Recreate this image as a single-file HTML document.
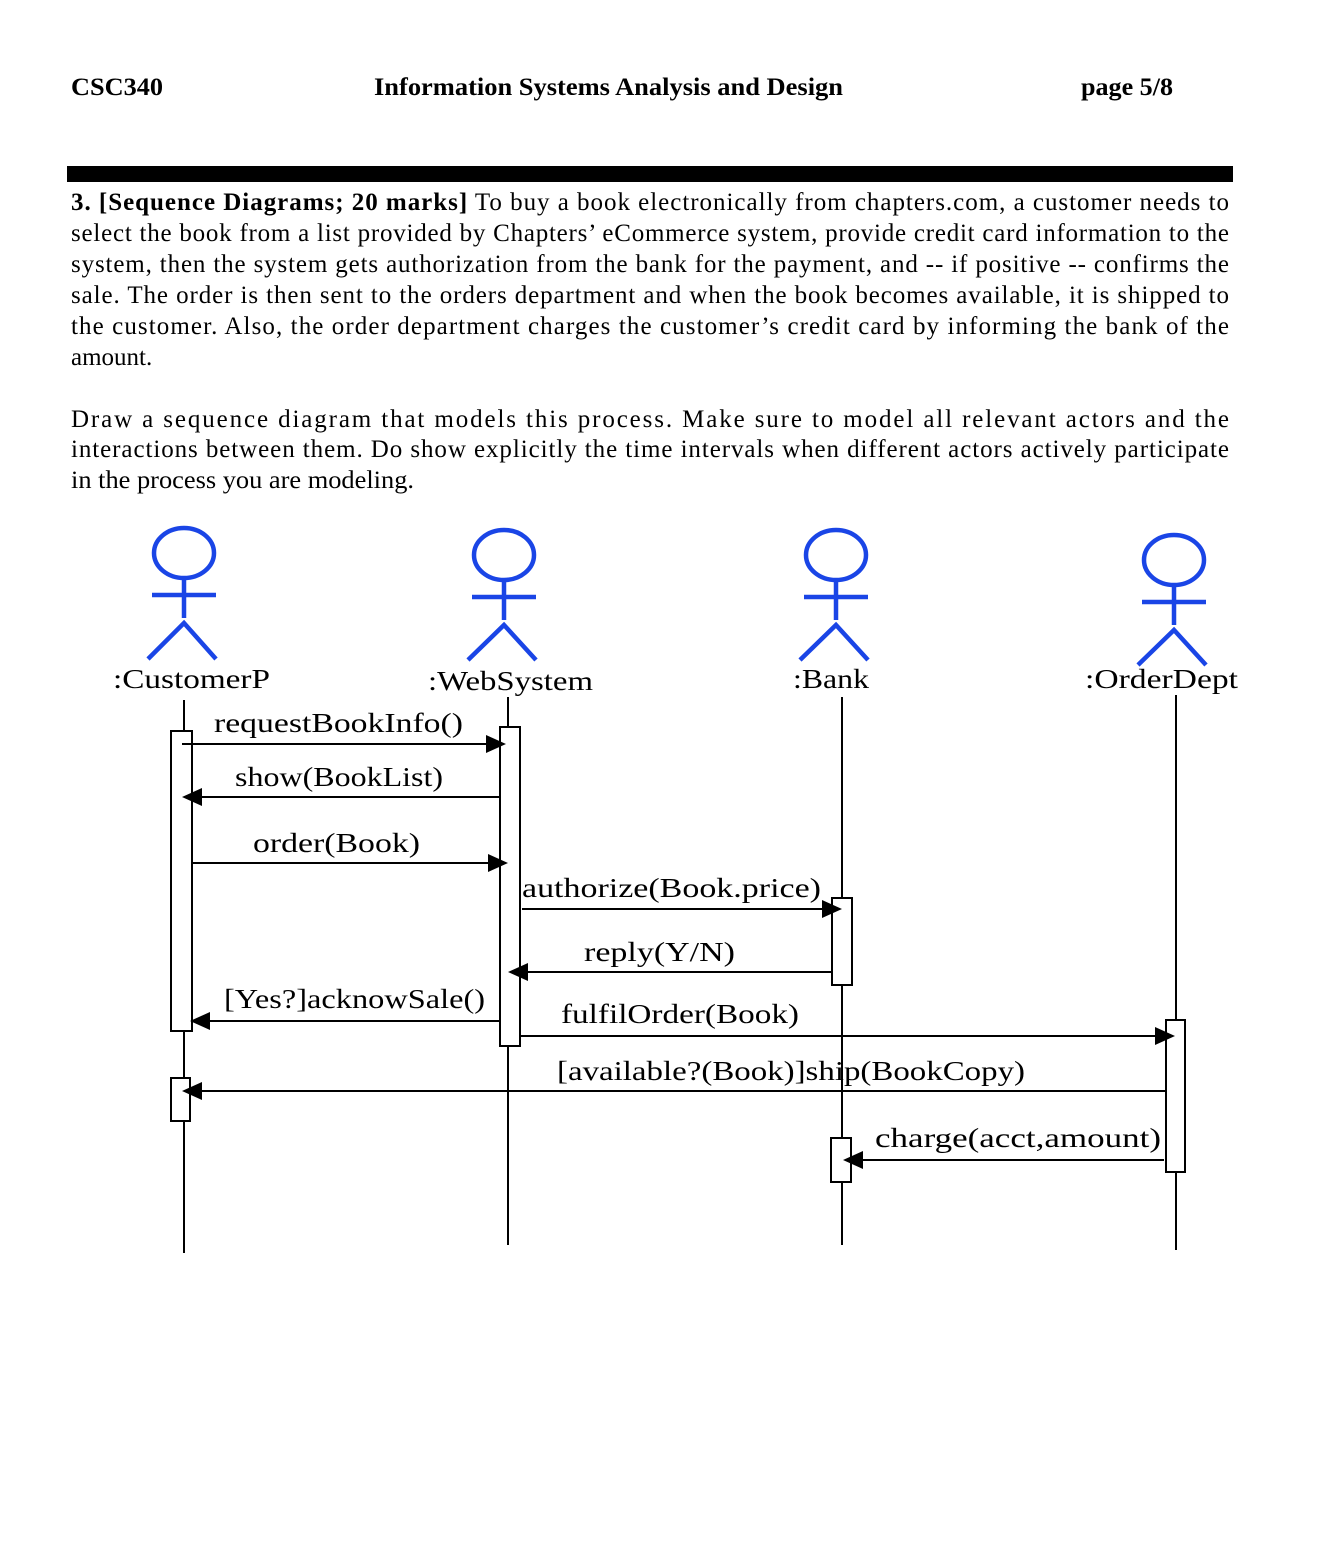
<!DOCTYPE html>
<html><head><meta charset="utf-8"><style>
html,body{margin:0;padding:0;background:#fff;}
svg{display:block;}
</style></head><body>
<svg width="1342" height="1558" viewBox="0 0 1342 1558" xmlns="http://www.w3.org/2000/svg" font-family="Liberation Serif, serif">
<g font-size="25" font-weight="bold">
<text x="71" y="95" textLength="92" lengthAdjust="spacingAndGlyphs">CSC340</text>
<text x="374" y="95" textLength="469" lengthAdjust="spacingAndGlyphs">Information Systems Analysis and Design</text>
<text x="1081" y="95" textLength="92" lengthAdjust="spacingAndGlyphs">page 5/8</text>
</g>
<rect x="67" y="166" width="1166" height="16" fill="#000"/>
<g font-size="25">
<text x="71" y="210" textLength="1158" lengthAdjust="spacing"><tspan font-weight="bold">3. [Sequence Diagrams; 20 marks]</tspan> To buy a book electronically from chapters.com, a customer needs to</text>
<text x="71" y="241" textLength="1158" lengthAdjust="spacing">select the book from a list provided by Chapters’ eCommerce system, provide credit card information to the</text>
<text x="71" y="272" textLength="1158" lengthAdjust="spacing">system, then the system gets authorization from the bank for the payment, and -- if positive -- confirms the</text>
<text x="71" y="303" textLength="1158" lengthAdjust="spacing">sale. The order is then sent to the orders department and when the book becomes available, it is shipped to</text>
<text x="71" y="334" textLength="1158" lengthAdjust="spacing">the customer. Also, the order department charges the customer’s credit card by informing the bank of the</text>
<text x="71" y="365">amount.</text>
<text x="71" y="427" textLength="1158" lengthAdjust="spacing">Draw a sequence diagram that models this process. Make sure to model all relevant actors and the</text>
<text x="71" y="457" textLength="1158" lengthAdjust="spacing">interactions between them. Do show explicitly the time intervals when different actors actively participate</text>
<text x="71" y="488" textLength="343" lengthAdjust="spacingAndGlyphs">in the process you are modeling.</text>
</g>
<g stroke="#1a45e6" stroke-width="4.5" fill="none">
<ellipse cx="184" cy="553" rx="30" ry="25"/><line x1="184" y1="578" x2="184" y2="618"/><line x1="152" y1="595" x2="216" y2="595"/><polyline points="148,659 184,623 216,659"/>
<ellipse cx="504" cy="555" rx="30" ry="25"/><line x1="504" y1="580" x2="504" y2="620"/><line x1="472" y1="597" x2="536" y2="597"/><polyline points="468,660 504,625 536,660"/>
<ellipse cx="836" cy="555" rx="30" ry="25"/><line x1="836" y1="580" x2="836" y2="620"/><line x1="804" y1="597" x2="868" y2="597"/><polyline points="800,660 836,625 868,660"/>
<ellipse cx="1174" cy="560" rx="30" ry="25"/><line x1="1174" y1="585" x2="1174" y2="625"/><line x1="1142" y1="602" x2="1206" y2="602"/><polyline points="1138,665 1174,630 1206,665"/>
</g>
<g font-size="27">
<text x="113" y="688" textLength="157" lengthAdjust="spacingAndGlyphs">:CustomerP</text>
<text x="428" y="690" textLength="165" lengthAdjust="spacingAndGlyphs">:WebSystem</text>
<text x="793" y="688" textLength="76" lengthAdjust="spacingAndGlyphs">:Bank</text>
<text x="1085" y="688" textLength="153" lengthAdjust="spacingAndGlyphs">:OrderDept</text>
</g>
<g stroke="#000" stroke-width="2">
<line x1="184" y1="700" x2="184" y2="1253"/>
<line x1="508" y1="697" x2="508" y2="1245"/>
<line x1="842" y1="697" x2="842" y2="1245"/>
<line x1="1176" y1="695" x2="1176" y2="1250"/>
</g>
<g stroke="#000" stroke-width="2" fill="#fff">
<rect x="171" y="731" width="21" height="300"/>
<rect x="171" y="1078" width="19" height="43"/>
<rect x="500" y="727" width="20" height="319"/>
<rect x="832" y="898" width="20" height="87"/>
<rect x="831" y="1138" width="20" height="44"/>
<rect x="1166" y="1020" width="19" height="152"/>
</g>
<g stroke="#000" stroke-width="2">
<line x1="182" y1="744" x2="490" y2="744"/>
<line x1="500" y1="797" x2="198" y2="797"/>
<line x1="192" y1="863" x2="492" y2="863"/>
<line x1="522" y1="909" x2="826" y2="909"/>
<line x1="832" y1="972" x2="524" y2="972"/>
<line x1="500" y1="1021" x2="206" y2="1021"/>
<line x1="520" y1="1036" x2="1159" y2="1036"/>
<line x1="1166" y1="1091" x2="198" y2="1091"/>
<line x1="1164" y1="1160" x2="859" y2="1160"/>
</g>
<g fill="#000">
<polygon points="506,744 486,735 486,753"/>
<polygon points="182,797 202,788 202,806"/>
<polygon points="508,863 488,854 488,872"/>
<polygon points="842,909 822,900 822,918"/>
<polygon points="508,972 528,963 528,981"/>
<polygon points="190,1021 210,1012 210,1030"/>
<polygon points="1175,1036 1155,1027 1155,1045"/>
<polygon points="182,1091 202,1082 202,1100"/>
<polygon points="843,1160 863,1151 863,1169"/>
</g>
<g font-size="27">
<text x="214" y="732" textLength="249" lengthAdjust="spacingAndGlyphs">requestBookInfo()</text>
<text x="235" y="786" textLength="208" lengthAdjust="spacingAndGlyphs">show(BookList)</text>
<text x="253" y="852" textLength="167" lengthAdjust="spacingAndGlyphs">order(Book)</text>
<text x="522" y="897" textLength="299" lengthAdjust="spacingAndGlyphs">authorize(Book.price)</text>
<text x="584" y="961" textLength="151" lengthAdjust="spacingAndGlyphs">reply(Y/N)</text>
<text x="224" y="1008" textLength="261" lengthAdjust="spacingAndGlyphs">[Yes?]acknowSale()</text>
<text x="561" y="1023" textLength="238" lengthAdjust="spacingAndGlyphs">fulfilOrder(Book)</text>
<text x="557" y="1080" textLength="468" lengthAdjust="spacingAndGlyphs">[available?(Book)]ship(BookCopy)</text>
<text x="875" y="1147" textLength="286" lengthAdjust="spacingAndGlyphs">charge(acct,amount)</text>
</g>
</svg>
</body></html>
